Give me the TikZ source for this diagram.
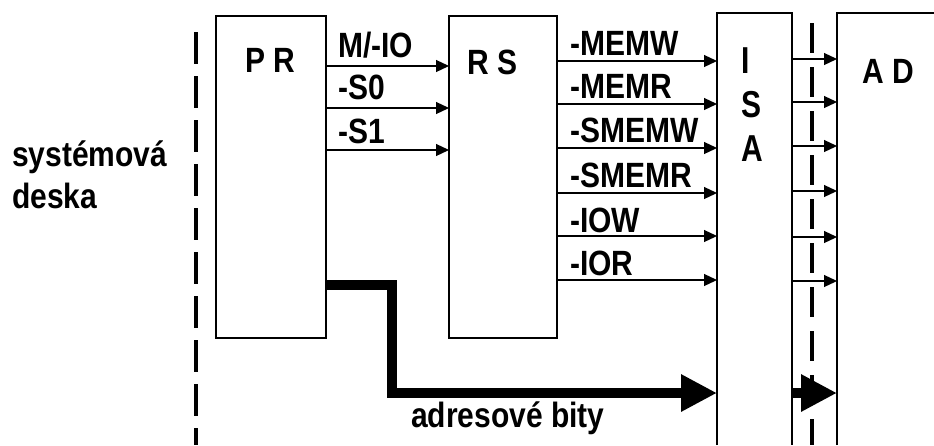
\documentclass[tikz,border=0pt]{standalone}
\usepackage{fontspec}
\setmainfont{Liberation Sans}
\usepackage{graphicx}
\usetikzlibrary{arrows.meta}
\newcommand{\tallt}[1]{\scalebox{1}[1.17]{#1}}
\newcommand{\tallisa}[1]{\scalebox{1}[1.25]{#1}}
\begin{document}
\begin{tikzpicture}[x=1pt,y=-1pt,
  blk/.style={rectangle,inner sep=0pt,outer sep=0pt},
  border/.style={line width=2pt},
  lbl/.style={inner sep=0pt,anchor=base west,font=\fontsize{30}{36}\selectfont\bfseries},
  sig/.style={line width=1.2pt,-{Triangle[length=13pt,width=12pt]}},
  bus/.style={line width=10pt,-{Triangle[length=36pt,width=35pt]}},
  dividerL/.style={line width=4pt,dash pattern=on 32pt off 12pt},
  dividerR/.style={line width=4pt,dash pattern=on 30pt off 14pt}]
\useasboundingbox (0,0) rectangle (934,445);

% dashed boundaries
\coordinate (dLtop) at (196,32);
\coordinate (dLbot) at (196,445);
\coordinate (dRtop) at (812,23);
\coordinate (dRbot) at (812,445);
\draw[dividerL] (dLtop) -- (dLbot);
\draw[dividerR] (dRtop) -- (dRbot);

% blocks
\node[blk,draw,border,minimum width=110pt,minimum height=322pt] (PR) at (271,177) {};
\node[blk,draw,border,minimum width=108pt,minimum height=322pt] (RS) at (503,177) {};
\node[blk,minimum width=75pt,minimum height=432pt] (ISA) at (754.5,229) {};
\node[blk,minimum width=97pt,minimum height=432pt] (AD) at (885.5,229) {};
\draw[border] (ISA.south west) -- (ISA.north west) -- (ISA.north east) -- (ISA.south east);
\draw[border] (AD.south west) -- (AD.north west) -- (AD.north east);

% block titles
\node[lbl] (tPR) at (245,72) {\tallt{P R}};
\node[lbl] (tRS) at (467,74) {\tallt{R S}};
\node[lbl] (tAD) at (862,83) {\tallt{A D}};
\node[lbl] (tI) at (741,73) {\tallisa{I}};
\node[lbl] (tS) at (741,117) {\tallisa{S}};
\node[lbl] (tA) at (741,161) {\tallisa{A}};

% side text
\node[lbl] (sys1) at (12,166) {\tallt{systémová}};
\node[lbl] (sys2) at (12,208) {\tallt{deska}};

% PR -> RS signals
\foreach \yy in {66,108,150}
  \draw[sig] (PR.east |- 0,\yy) -- (RS.west |- 0,\yy);
\node[lbl] (lMIO) at (338,57) {\tallt{M/-IO}};
\node[lbl] (lS0) at (338,99) {\tallt{-S0}};
\node[lbl] (lS1) at (338,143) {\tallt{-S1}};

% RS -> ISA signals
\foreach \yy in {61,104,148,193,236,280}
  \draw[sig] (RS.east |- 0,\yy) -- (ISA.west |- 0,\yy);
\node[lbl] (lMEMW) at (570,55) {\tallt{-MEMW}};
\node[lbl] (lMEMR) at (570,98) {\tallt{-MEMR}};
\node[lbl] (lSMEMW) at (570,142) {\tallt{-SMEMW}};
\node[lbl] (lSMEMR) at (570,187) {\tallt{-SMEMR}};
\node[lbl] (lIOW) at (570,232) {\tallt{-IOW}};
\node[lbl] (lIOR) at (570,275) {\tallt{-IOR}};

% ISA -> AD signals
\foreach \yy in {59,102,146,191,237,281}
  \draw[sig] (ISA.east |- 0,\yy) -- (AD.west |- 0,\yy);

% address bus
\coordinate (bend1) at (392,285);
\coordinate (bend2) at (392,393);
\draw[bus] (PR.east |- 0,285) -- (bend1) -- (bend2) -- (ISA.west |- 0,393);
\draw[bus] (ISA.east |- 0,393) -- (AD.west |- 0,393);
\node[lbl] (lAddr) at (411,427) {\tallt{adresové bity}};
\end{tikzpicture}
\end{document}
